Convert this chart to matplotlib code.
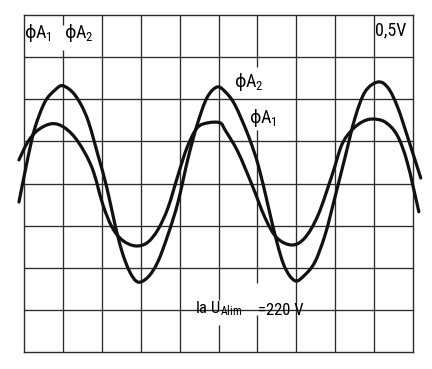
import matplotlib.pyplot as plt
from matplotlib import font_manager
from matplotlib.path import Path
from matplotlib.patches import PathPatch

# traces, in divisions (x: 0..10, y: 0..8)
a2_x = [-0.13, 0.10, 0.28, 0.54, 0.80, 1.00, 1.31, 1.62, 1.90, 2.13, 2.34, 2.52, 2.72, 2.93,
        3.19, 3.44, 3.70, 3.96, 4.22, 4.45, 4.70, 4.96, 5.17, 5.42, 5.76, 6.02, 6.27, 6.50,
        6.71, 6.97, 7.22, 7.48, 7.74, 7.99, 8.25, 8.51, 8.77, 9.10, 9.36, 9.61, 9.87, 10.20]
a2_y = [3.56, 4.61, 5.32, 5.94, 6.22, 6.32, 6.10, 5.56, 4.68, 3.90, 3.02, 2.38, 1.90, 1.66,
        1.78, 2.14, 2.78, 3.56, 4.61, 5.39, 6.03, 6.29, 6.18, 5.87, 5.15, 4.44, 3.49, 2.61,
        2.00, 1.69, 1.83, 2.14, 2.78, 3.66, 4.61, 5.56, 6.18, 6.41, 6.27, 5.80, 5.08, 4.13]

a1_x = [-0.13, 0.10, 0.36, 0.72, 1.05, 1.39, 1.75, 2.03, 2.26, 2.52, 2.85, 3.16, 3.44, 3.70,
        3.96, 4.19, 4.45, 4.73, 5.04, 5.17, 5.50, 5.86, 6.20, 6.50, 6.89, 7.22, 7.56, 7.92,
        8.17, 8.43, 8.69, 8.95, 9.28, 9.59, 9.85, 10.15]
a1_y = [4.56, 4.99, 5.27, 5.42, 5.32, 4.99, 4.37, 3.49, 2.97, 2.66, 2.52, 2.59, 2.90, 3.42,
        4.20, 4.85, 5.32, 5.44, 5.44, 5.27, 4.75, 3.97, 3.18, 2.71, 2.54, 2.71, 3.25, 4.20,
        4.92, 5.27, 5.46, 5.53, 5.46, 5.15, 4.51, 3.33]

phase_subs = ['1', '2', '2', '1']   # top-left pair, then the two labels mid screen
scale_label = '0,5V'
supply_label = ['la U$_{Alim}$', '=220 V']

# pick a narrow face if one is around, the screen lettering is condensed
narrow, stretch = 'DejaVu Sans', 'normal'
for f in font_manager.fontManager.ttflist:
    if f.name in ('Liberation Sans Narrow', 'Noto Sans Condensed', 'Roboto Condensed',
                  'Open Sans Condensed', 'DejaVu Sans Condensed'):
        narrow, stretch = f.name, 'normal'
        break
    if f.style == 'normal' and f.stretch in ('condensed', 'semi-condensed') and \
            f.name in ('DejaVu Sans', 'Noto Sans', 'Open Sans', 'Roboto', 'Liberation Sans'):
        narrow, stretch = f.name, f.stretch

plt.rcParams['font.family'] = [narrow, 'DejaVu Sans']
plt.rcParams['font.stretch'] = stretch
plt.rcParams['mathtext.fontset'] = 'custom'
plt.rcParams['mathtext.rm'] = narrow
plt.rcParams['mathtext.it'] = narrow


def smooth_path(xs, ys):
    # catmull-rom through the read points, drawn as cubic beziers
    p = list(zip(xs, ys))
    p = [p[0]] + p + [p[-1]]
    verts, codes = [p[1]], [Path.MOVETO]
    for i in range(1, len(p) - 2):
        c1 = (p[i][0] + (p[i + 1][0] - p[i - 1][0]) / 6, p[i][1] + (p[i + 1][1] - p[i - 1][1]) / 6)
        c2 = (p[i + 1][0] - (p[i + 2][0] - p[i][0]) / 6, p[i + 1][1] - (p[i + 2][1] - p[i][1]) / 6)
        verts += [c1, c2, p[i + 1]]
        codes += [Path.CURVE4] * 3
    return Path(verts, codes)


def phase_label(x, y, sub):
    ax.text(x, y, 'ϕ', family='DejaVu Sans', fontsize=12.5, va='baseline', ha='left', zorder=4)
    ax.annotate('A$_{%s}$' % sub, xy=(x, y), xytext=(7.2, 0), textcoords='offset points',
                fontsize=13, va='baseline', ha='left', zorder=4)


fig = plt.figure(figsize=(4.32, 3.69), dpi=100)
ax = fig.add_axes([24 / 432, 17 / 369, 389 / 432, 337 / 369])
ax.set_xlim(0, 10)
ax.set_ylim(0, 8)
ax.set_xticks([])
ax.set_yticks([])
for s in ax.spines.values():
    s.set_color('#2b2b2b')
    s.set_linewidth(1.0)

grid_col = '#2b2b2b'
vgaps = {1: [(7.18, 7.77)], 5: [(0.64, 1.24)], 6: [(0.88, 1.64), (5.27, 6.77)]}
for gx in range(1, 10):
    pts = [0] + [v for g in vgaps.get(gx, []) for v in g] + [8]
    for lo, hi in zip(pts[0::2], pts[1::2]):
        ax.vlines(gx, lo, hi, color=grid_col, lw=0.95, zorder=1)
for gy in range(1, 8):
    ax.axhline(gy, color=grid_col, lw=0.95, zorder=1)

for xs, ys in [(a2_x, a2_y), (a1_x, a1_y)]:
    ax.add_patch(PathPatch(smooth_path(xs, ys), fill=False, edgecolor='#111111', lw=2.3,
                           capstyle='round', joinstyle='round', clip_on=False, zorder=3))

phase_label(0.03, 7.46, phase_subs[0])
phase_label(1.06, 7.46, phase_subs[1])
phase_label(5.42, 6.29, phase_subs[2])
phase_label(5.80, 5.44, phase_subs[3])
ax.text(9.02, 7.86, scale_label, fontsize=13, va='top', ha='left', zorder=4)
ax.text(4.40, 0.93, supply_label[0], fontsize=12, va='baseline', ha='left', zorder=4)
ax.text(6.02, 0.88, supply_label[1], fontsize=12, va='baseline', ha='left', zorder=4)

fig.savefig('out.png', dpi=100, facecolor='white')
